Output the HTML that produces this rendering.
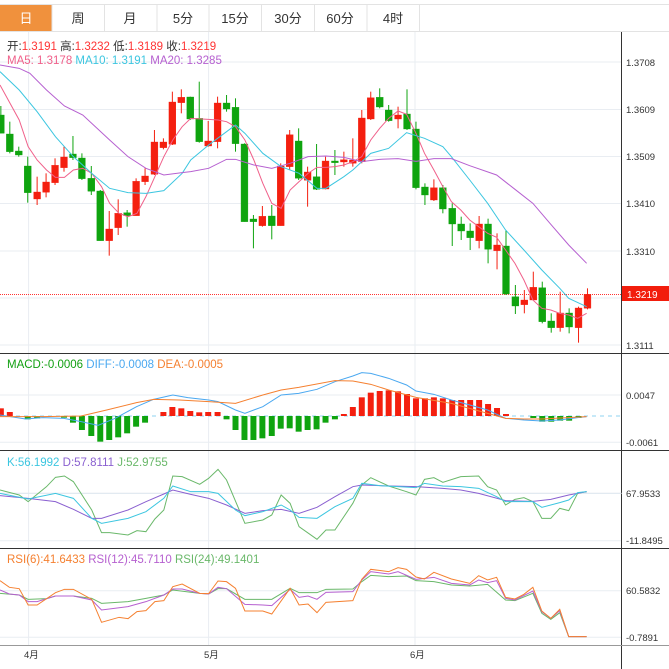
<!DOCTYPE html>
<html><head><meta charset="utf-8"><style>
body{margin:0;width:669px;height:669px;overflow:hidden;background:#fff;font-family:"Liberation Sans","Noto Sans CJK SC",sans-serif;}
svg{position:absolute;left:0;top:0}
</style></head><body>
<svg width="669" height="669" viewBox="0 0 669 669" xmlns="http://www.w3.org/2000/svg">
<!-- tabs -->
<rect x="0" y="4" width="669" height="27" fill="#fff"/>
<line x1="0" y1="4.5" x2="669" y2="4.5" stroke="#e3e3e3"/>
<line x1="0" y1="31.5" x2="669" y2="31.5" stroke="#e3e3e3"/>
<rect x="0" y="5" width="52" height="26" fill="#f0913d"/>
<g stroke="#e3e3e3"><line x1="104.5" y1="5" x2="104.5" y2="31"/><line x1="157" y1="5" x2="157" y2="31"/><line x1="209" y1="5" x2="209" y2="31"/><line x1="261.5" y1="5" x2="261.5" y2="31"/><line x1="314.5" y1="5" x2="314.5" y2="31"/><line x1="367" y1="5" x2="367" y2="31"/><line x1="419.5" y1="5" x2="419.5" y2="31"/><line x1="52" y1="5" x2="52" y2="31"/></g>
<g font-size="13" text-anchor="middle" fill="#333"><text x="26" y="23" fill="#fff">日</text><text x="78" y="23">周</text><text x="130" y="23">月</text><text x="183" y="23">5分</text><text x="235" y="23">15分</text><text x="288" y="23">30分</text><text x="340" y="23">60分</text><text x="393" y="23">4时</text></g>

<!-- grid -->
<g stroke="#e9edf2" stroke-width="1">
<line x1="0" y1="62" x2="621" y2="62"/><line x1="0" y1="109.5" x2="621" y2="109.5"/><line x1="0" y1="156.5" x2="621" y2="156.5"/><line x1="0" y1="203.5" x2="621" y2="203.5"/><line x1="0" y1="251" x2="621" y2="251"/><line x1="0" y1="298" x2="621" y2="298"/><line x1="0" y1="345" x2="621" y2="345"/>
<line x1="0" y1="395" x2="621" y2="395"/><line x1="0" y1="442.3" x2="621" y2="442.3"/>
<line x1="0" y1="493.3" x2="621" y2="493.3"/><line x1="0" y1="540.7" x2="621" y2="540.7"/>
<line x1="0" y1="590.7" x2="621" y2="590.7"/><line x1="0" y1="637.3" x2="621" y2="637.3"/>
<line x1="28.6" y1="32" x2="28.6" y2="645"/><line x1="208.6" y1="32" x2="208.6" y2="645"/><line x1="415" y1="32" x2="415" y2="645"/>
</g>
<!-- panel borders -->
<g stroke="#333" stroke-width="1">
<line x1="621.5" y1="32" x2="621.5" y2="669"/>
<line x1="0" y1="353.5" x2="669" y2="353.5"/>
<line x1="0" y1="450.5" x2="669" y2="450.5"/>
<line x1="0" y1="548.5" x2="669" y2="548.5"/>
<line x1="0" y1="645.5" x2="669" y2="645.5" stroke="#999"/>
</g>
<line x1="0" y1="294.5" x2="621" y2="294.5" stroke="#f33" stroke-dasharray="1,1"/>
<rect x="622" y="286" width="47" height="15" fill="#f21d0c"/>
<text x="627" y="298" font-size="10" fill="#fff">1.3219</text>

<!-- axis labels -->
<g font-size="9.5" fill="#333">
<text x="626" y="66">1.3708</text><text x="626" y="113">1.3609</text><text x="626" y="160">1.3509</text><text x="626" y="207">1.3410</text><text x="626" y="255">1.3310</text><text x="626" y="349">1.3111</text>
<text x="626" y="399">0.0047</text><text x="626" y="446">-0.0061</text>
<text x="626" y="497">67.9533</text><text x="626" y="544">-11.8495</text>
<text x="626" y="594">60.5832</text><text x="626" y="641">-0.7891</text>
<text x="24" y="658">4月</text><text x="204" y="658">5月</text><text x="410" y="658">6月</text>
</g>

<!-- legends -->
<g font-size="11.5">
<text x="7" y="50" fill="#333">开:<tspan fill="#f33">1.3191</tspan>  高:<tspan fill="#f33">1.3232</tspan>  低:<tspan fill="#f33">1.3189</tspan>  收:<tspan fill="#f33">1.3219</tspan></text>
<text x="7" y="64"><tspan fill="#f0608a">MA5: 1.3178</tspan>  <tspan fill="#3cc6e0">MA10: 1.3191</tspan>  <tspan fill="#b660d0">MA20: 1.3285</tspan></text>
<text x="7" y="368"><tspan fill="#12a012">MACD:-0.0006</tspan>  <tspan fill="#4aa8f0">DIFF:-0.0008</tspan>  <tspan fill="#f58030">DEA:-0.0005</tspan></text>
<text x="7" y="466"><tspan fill="#3cc6e0">K:56.1992</tspan>  <tspan fill="#8a60d0">D:57.8111</tspan>  <tspan fill="#6ab86a">J:52.9755</tspan></text>
<text x="7" y="563"><tspan fill="#f58030">RSI(6):41.6433</tspan>  <tspan fill="#b660d0">RSI(12):45.7110</tspan>  <tspan fill="#6ab86a">RSI(24):49.1401</tspan></text>
</g>

<!-- main chart in zoom coords -->
<g transform="scale(0.42664,0.33333)">
<g stroke="#f41f0f" fill="#f41f0f" id="r">
<line x1="87" y1="530" x2="87" y2="615" vector-effect="non-scaling-stroke"/><rect x="79" y="576" width="16" height="21"/>
<line x1="108" y1="520" x2="108" y2="592" vector-effect="non-scaling-stroke"/><rect x="100" y="546" width="16" height="31"/>
<line x1="129" y1="475" x2="129" y2="555" vector-effect="non-scaling-stroke"/><rect x="121" y="496" width="16" height="52"/>
<line x1="150" y1="440" x2="150" y2="515" vector-effect="non-scaling-stroke"/><rect x="142" y="471" width="16" height="32"/>
<line x1="256" y1="633" x2="256" y2="767" vector-effect="non-scaling-stroke"/><rect x="248" y="687" width="16" height="35"/>
<line x1="277" y1="598" x2="277" y2="705" vector-effect="non-scaling-stroke"/><rect x="269" y="640" width="16" height="43"/>
<line x1="319" y1="535" x2="319" y2="647" vector-effect="non-scaling-stroke"/><rect x="311" y="544" width="16" height="103"/>
<line x1="340" y1="505" x2="340" y2="555" vector-effect="non-scaling-stroke"/><rect x="332" y="528" width="16" height="17"/>
<line x1="362" y1="390" x2="362" y2="525" vector-effect="non-scaling-stroke"/><rect x="354" y="426" width="16" height="97"/>
<line x1="383" y1="415" x2="383" y2="448" vector-effect="non-scaling-stroke"/><rect x="375" y="426" width="16" height="17"/>
<line x1="404" y1="275" x2="404" y2="435" vector-effect="non-scaling-stroke"/><rect x="396" y="306" width="16" height="127"/>
<line x1="425" y1="268" x2="425" y2="340" vector-effect="non-scaling-stroke"/><rect x="417" y="292" width="16" height="16"/>
<line x1="488" y1="363" x2="488" y2="440" vector-effect="non-scaling-stroke"/><rect x="480" y="423" width="16" height="15"/>
<line x1="510" y1="290" x2="510" y2="445" vector-effect="non-scaling-stroke"/><rect x="502" y="309" width="16" height="116"/>
<line x1="615" y1="618" x2="615" y2="680" vector-effect="non-scaling-stroke"/><rect x="607" y="649" width="16" height="28"/>
<line x1="658" y1="490" x2="658" y2="677" vector-effect="non-scaling-stroke"/><rect x="650" y="498" width="16" height="179"/>
<line x1="679" y1="390" x2="679" y2="510" vector-effect="non-scaling-stroke"/><rect x="671" y="404" width="16" height="96"/>
<line x1="721" y1="500" x2="721" y2="620" vector-effect="non-scaling-stroke"/><rect x="713" y="516" width="16" height="25"/>
<line x1="763" y1="470" x2="763" y2="568" vector-effect="non-scaling-stroke"/><rect x="755" y="483" width="16" height="84"/>
<line x1="806" y1="455" x2="806" y2="500" vector-effect="non-scaling-stroke"/><rect x="798" y="479" width="16" height="7"/>
<line x1="827" y1="415" x2="827" y2="500" vector-effect="non-scaling-stroke"/><rect x="819" y="480" width="16" height="10"/>
<line x1="848" y1="330" x2="848" y2="490" vector-effect="non-scaling-stroke"/><rect x="840" y="354" width="16" height="131"/>
<line x1="869" y1="275" x2="869" y2="360" vector-effect="non-scaling-stroke"/><rect x="861" y="293" width="16" height="64"/>
<line x1="933" y1="320" x2="933" y2="385" vector-effect="non-scaling-stroke"/><rect x="925" y="345" width="16" height="12"/>
<line x1="1017" y1="538" x2="1017" y2="603" vector-effect="non-scaling-stroke"/><rect x="1009" y="563" width="16" height="37"/>
<line x1="1123" y1="648" x2="1123" y2="745" vector-effect="non-scaling-stroke"/><rect x="1115" y="672" width="16" height="50"/>
<line x1="1165" y1="700" x2="1165" y2="808" vector-effect="non-scaling-stroke"/><rect x="1157" y="735" width="16" height="17"/>
<line x1="1229" y1="870" x2="1229" y2="940" vector-effect="non-scaling-stroke"/><rect x="1221" y="900" width="16" height="14"/>
<line x1="1250" y1="815" x2="1250" y2="900" vector-effect="non-scaling-stroke"/><rect x="1242" y="862" width="16" height="38"/>
<line x1="1313" y1="875" x2="1313" y2="995" vector-effect="non-scaling-stroke"/><rect x="1305" y="939" width="16" height="44"/>
<line x1="1356" y1="920" x2="1356" y2="1028" vector-effect="non-scaling-stroke"/><rect x="1348" y="924" width="16" height="59"/>
<line x1="1377" y1="865" x2="1377" y2="928" vector-effect="non-scaling-stroke"/><rect x="1369" y="883" width="16" height="42"/>
</g>
<g stroke="#0fa40f" fill="#0fa40f">
<line x1="2" y1="318" x2="2" y2="400" vector-effect="non-scaling-stroke"/><rect x="-6" y="345" width="16" height="55"/>
<line x1="23" y1="365" x2="23" y2="460" vector-effect="non-scaling-stroke"/><rect x="15" y="402" width="16" height="53"/>
<line x1="44" y1="440" x2="44" y2="470" vector-effect="non-scaling-stroke"/><rect x="36" y="453" width="16" height="12"/>
<line x1="65" y1="470" x2="65" y2="608" vector-effect="non-scaling-stroke"/><rect x="57" y="498" width="16" height="80"/>
<line x1="171" y1="408" x2="171" y2="480" vector-effect="non-scaling-stroke"/><rect x="163" y="462" width="16" height="11"/>
<line x1="192" y1="460" x2="192" y2="540" vector-effect="non-scaling-stroke"/><rect x="184" y="474" width="16" height="62"/>
<line x1="214" y1="498" x2="214" y2="585" vector-effect="non-scaling-stroke"/><rect x="206" y="535" width="16" height="39"/>
<line x1="235" y1="570" x2="235" y2="722" vector-effect="non-scaling-stroke"/><rect x="227" y="573" width="16" height="149"/>
<line x1="298" y1="630" x2="298" y2="680" vector-effect="non-scaling-stroke"/><rect x="290" y="638" width="16" height="9"/>
<line x1="446" y1="290" x2="446" y2="360" vector-effect="non-scaling-stroke"/><rect x="438" y="291" width="16" height="66"/>
<line x1="467" y1="245" x2="467" y2="428" vector-effect="non-scaling-stroke"/><rect x="459" y="355" width="16" height="70"/>
<line x1="531" y1="285" x2="531" y2="335" vector-effect="non-scaling-stroke"/><rect x="523" y="309" width="16" height="18"/>
<line x1="552" y1="295" x2="552" y2="455" vector-effect="non-scaling-stroke"/><rect x="544" y="322" width="16" height="109"/>
<line x1="573" y1="430" x2="573" y2="665" vector-effect="non-scaling-stroke"/><rect x="565" y="432" width="16" height="233"/>
<line x1="594" y1="645" x2="594" y2="745" vector-effect="non-scaling-stroke"/><rect x="586" y="657" width="16" height="8"/>
<line x1="637" y1="615" x2="637" y2="718" vector-effect="non-scaling-stroke"/><rect x="629" y="648" width="16" height="29"/>
<line x1="700" y1="385" x2="700" y2="540" vector-effect="non-scaling-stroke"/><rect x="692" y="423" width="16" height="112"/>
<line x1="742" y1="432" x2="742" y2="570" vector-effect="non-scaling-stroke"/><rect x="734" y="530" width="16" height="38"/>
<line x1="785" y1="450" x2="785" y2="525" vector-effect="non-scaling-stroke"/><rect x="777" y="483" width="16" height="5"/>
<line x1="890" y1="265" x2="890" y2="325" vector-effect="non-scaling-stroke"/><rect x="882" y="292" width="16" height="29"/>
<line x1="911" y1="315" x2="911" y2="365" vector-effect="non-scaling-stroke"/><rect x="903" y="330" width="16" height="32"/>
<line x1="954" y1="268" x2="954" y2="390" vector-effect="non-scaling-stroke"/><rect x="946" y="342" width="16" height="45"/>
<line x1="975" y1="365" x2="975" y2="568" vector-effect="non-scaling-stroke"/><rect x="967" y="387" width="16" height="176"/>
<line x1="996" y1="550" x2="996" y2="615" vector-effect="non-scaling-stroke"/><rect x="988" y="561" width="16" height="24"/>
<line x1="1038" y1="555" x2="1038" y2="640" vector-effect="non-scaling-stroke"/><rect x="1030" y="563" width="16" height="64"/>
<line x1="1060" y1="610" x2="1060" y2="738" vector-effect="non-scaling-stroke"/><rect x="1052" y="625" width="16" height="47"/>
<line x1="1081" y1="650" x2="1081" y2="720" vector-effect="non-scaling-stroke"/><rect x="1073" y="672" width="16" height="21"/>
<line x1="1102" y1="670" x2="1102" y2="750" vector-effect="non-scaling-stroke"/><rect x="1094" y="693" width="16" height="20"/>
<line x1="1144" y1="656" x2="1144" y2="790" vector-effect="non-scaling-stroke"/><rect x="1136" y="672" width="16" height="76"/>
<line x1="1186" y1="690" x2="1186" y2="885" vector-effect="non-scaling-stroke"/><rect x="1178" y="738" width="16" height="144"/>
<line x1="1208" y1="855" x2="1208" y2="942" vector-effect="non-scaling-stroke"/><rect x="1200" y="890" width="16" height="28"/>
<line x1="1271" y1="845" x2="1271" y2="970" vector-effect="non-scaling-stroke"/><rect x="1263" y="863" width="16" height="102"/>
<line x1="1292" y1="940" x2="1292" y2="998" vector-effect="non-scaling-stroke"/><rect x="1284" y="963" width="16" height="20"/>
<line x1="1334" y1="925" x2="1334" y2="1000" vector-effect="non-scaling-stroke"/><rect x="1326" y="939" width="16" height="42"/>
</g>
<g fill="none" vector-effect="non-scaling-stroke">
<polyline vector-effect="non-scaling-stroke" stroke="#f0608a" points="0,255 45,360 66,440 87,480 109,510 130,532 151,532 172,510 194,505 215,520 238,560 257,610 279,640 300,650 321,640 342,590 363,530 384,470 405,420 427,380 447,355 489,358 511,360 531,365 552,380 574,420 595,480 616,550 637,610 659,625 680,570 701,545 722,520 743,502 764,502 785,500 806,495 827,485 848,470 869,420 890,385 911,355 933,333 953,343 975,400 995,460 1017,510 1038,560 1058,605 1080,630 1101,660 1122,680 1143,700 1164,712 1185,750 1207,790 1228,840 1249,900 1270,925 1291,930 1312,940 1333,945 1354,955 1375,940"/>
<polyline vector-effect="non-scaling-stroke" stroke="#3cc6e0" points="0,215 45,270 87,335 130,410 172,470 215,520 257,565 300,578 342,580 384,572 427,520 447,480 489,435 531,395 552,375 574,400 616,460 659,500 701,520 743,565 764,565 806,530 827,510 869,460 911,445 953,398 995,415 1038,440 1058,470 1101,540 1143,610 1185,690 1228,750 1270,810 1312,865 1333,895 1375,920"/>
<polyline vector-effect="non-scaling-stroke" stroke="#b660d0" points="0,195 45,205 70,220 109,270 151,318 194,345 257,420 300,470 342,505 384,525 427,518 447,515 489,505 531,478 552,478 595,495 637,505 680,490 722,470 764,468 806,472 848,485 890,478 933,476 975,484 1017,476 1058,476 1101,497 1164,525 1207,568 1249,610 1291,673 1333,735 1375,790"/>
</g>
</g>

<!-- lower panels in zoom coords -->
<g transform="translate(0,350) scale(0.42664,0.33333)">
<line x1="0" y1="198" x2="1457" y2="198" stroke="#8fd3f0" stroke-dasharray="4,4" vector-effect="non-scaling-stroke"/>
<g fill="#f41f0f">
<rect x="-5" y="175" width="14" height="23"/><rect x="16" y="186" width="14" height="12"/>
<rect x="376" y="186" width="14" height="12"/><rect x="397" y="171" width="14" height="27"/><rect x="418" y="175" width="14" height="23"/><rect x="439" y="183" width="14" height="15"/><rect x="460" y="187" width="14" height="11"/><rect x="481" y="186" width="14" height="12"/><rect x="503" y="186" width="14" height="12"/>
<rect x="799" y="192" width="14" height="6"/><rect x="820" y="171" width="14" height="27"/><rect x="841" y="142" width="14" height="56"/><rect x="862" y="128" width="14" height="70"/><rect x="883" y="123" width="14" height="75"/><rect x="904" y="121" width="14" height="77"/><rect x="926" y="124" width="14" height="74"/><rect x="947" y="132" width="14" height="66"/><rect x="968" y="145" width="14" height="53"/><rect x="989" y="145" width="14" height="53"/><rect x="1010" y="142" width="14" height="56"/><rect x="1031" y="145" width="14" height="53"/><rect x="1053" y="150" width="14" height="48"/><rect x="1074" y="150" width="14" height="48"/><rect x="1095" y="150" width="14" height="48"/><rect x="1116" y="150" width="14" height="48"/><rect x="1137" y="162" width="14" height="36"/><rect x="1158" y="174" width="14" height="24"/><rect x="1179" y="192" width="14" height="6"/>
</g>
<g fill="#0fa40f">
<rect x="58" y="198" width="14" height="10"/><rect x="80" y="198" width="14" height="7"/><rect x="143" y="198" width="14" height="5"/><rect x="164" y="198" width="14" height="20"/><rect x="185" y="198" width="14" height="42"/><rect x="207" y="198" width="14" height="60"/><rect x="228" y="198" width="14" height="77"/><rect x="249" y="198" width="14" height="72"/><rect x="270" y="198" width="14" height="64"/><rect x="291" y="198" width="14" height="52"/><rect x="312" y="198" width="14" height="32"/><rect x="333" y="198" width="14" height="20"/>
<rect x="524" y="198" width="14" height="10"/><rect x="545" y="198" width="14" height="42"/><rect x="566" y="198" width="14" height="72"/><rect x="587" y="198" width="14" height="72"/><rect x="608" y="198" width="14" height="67"/><rect x="630" y="198" width="14" height="60"/><rect x="651" y="198" width="14" height="38"/><rect x="672" y="198" width="14" height="37"/><rect x="693" y="198" width="14" height="47"/><rect x="714" y="198" width="14" height="42"/><rect x="735" y="198" width="14" height="40"/><rect x="756" y="198" width="14" height="20"/><rect x="778" y="198" width="14" height="10"/>
<rect x="1243" y="198" width="14" height="6"/><rect x="1264" y="198" width="14" height="17"/><rect x="1285" y="198" width="14" height="17"/><rect x="1306" y="198" width="14" height="14"/><rect x="1327" y="198" width="14" height="14"/><rect x="1349" y="198" width="14" height="6"/>
</g>
<g fill="none">
<polyline vector-effect="non-scaling-stroke" stroke="#4aa8f0" points="0,195 60,207 100,203 150,205 190,215 230,226 270,205 320,170 360,148 405,135 440,143 489,150 511,155 552,180 574,190 616,170 659,135 700,130 743,118 785,95 827,78 848,68 869,70 911,85 953,105 975,123 1017,133 1058,150 1101,165 1143,180 1185,205 1228,210 1270,213 1312,210 1354,203 1375,200"/>
<polyline vector-effect="non-scaling-stroke" stroke="#f58030" points="0,200 100,200 190,198 250,180 320,158 360,148 420,150 489,155 552,160 616,135 659,120 700,112 785,92 827,93 869,103 911,120 975,142 1058,160 1143,190 1185,205 1228,207 1270,207 1375,200"/>
<line x1="0" y1="430" x2="1457" y2="430" stroke="#dfe8f0" vector-effect="non-scaling-stroke"/>
<polyline vector-effect="non-scaling-stroke" stroke="#6ab86a" points="0,420 45,435 66,455 109,410 130,382 151,378 172,395 215,480 238,548 257,548 300,555 321,542 342,545 363,507 384,480 405,378 427,380 468,403 489,385 511,358 531,390 574,520 616,510 637,495 659,435 680,460 701,530 743,568 764,540 785,540 827,460 848,405 869,383 911,408 953,425 975,435 995,388 1017,383 1038,397 1080,380 1122,378 1143,410 1164,420 1185,465 1207,448 1228,443 1249,455 1270,505 1291,505 1312,475 1333,482 1354,430 1375,425"/>
<polyline vector-effect="non-scaling-stroke" stroke="#8a60d0" points="0,437 66,445 130,455 172,478 215,505 238,505 300,480 342,455 384,432 405,420 447,433 489,445 531,465 574,490 616,482 659,478 701,490 743,472 785,440 827,410 848,405 890,407 975,410 1038,415 1080,420 1122,430 1185,452 1249,454 1291,448 1333,435 1375,425"/>
<polyline vector-effect="non-scaling-stroke" stroke="#3cc6e0" points="0,430 66,447 130,430 172,445 215,505 238,520 300,505 342,485 384,445 405,408 447,425 489,425 511,430 552,480 574,497 616,485 659,465 680,480 701,502 743,505 785,470 827,445 848,400 890,407 933,410 975,413 995,400 1038,408 1080,410 1122,415 1164,440 1185,455 1249,455 1270,472 1312,458 1333,450 1354,428 1375,425"/>
<polyline vector-effect="non-scaling-stroke" stroke="#6ab86a" points="0,730 45,735 66,748 109,746 130,738 172,738 215,745 238,760 300,755 342,745 384,735 405,720 468,730 489,732 511,716 531,716 574,748 637,748 680,715 701,728 743,728 764,718 827,717 848,695 869,676 911,680 953,678 975,692 1017,695 1058,705 1101,708 1143,703 1185,750 1207,752 1249,730 1270,790 1291,808 1312,788 1333,860 1375,860"/>
<polyline vector-effect="non-scaling-stroke" stroke="#b660d0" points="0,720 22,732 45,735 66,755 87,755 130,738 172,738 215,750 238,780 300,770 342,755 384,735 405,717 427,717 468,730 489,732 511,712 531,716 574,763 616,765 637,767 680,718 701,742 722,738 743,748 764,727 827,725 848,690 869,665 911,672 933,665 975,688 1017,682 1058,700 1101,705 1122,690 1143,698 1164,692 1185,745 1207,750 1249,723 1270,785 1291,805 1312,782 1333,860 1375,860"/>
<polyline vector-effect="non-scaling-stroke" stroke="#f58030" points="0,692 22,712 45,716 66,765 87,765 130,728 151,718 172,718 215,748 238,817 279,802 300,806 321,785 342,782 363,755 384,752 405,710 427,702 468,730 489,731 511,693 531,695 552,715 574,783 616,783 637,792 680,715 701,765 722,762 743,788 764,757 827,752 848,688 869,658 911,665 933,653 953,658 975,681 995,687 1017,667 1058,687 1101,700 1122,677 1143,690 1164,682 1185,742 1207,747 1228,733 1249,712 1270,783 1291,805 1312,778 1333,860 1375,860"/>
</g>
</g>
</svg>
</body></html>
